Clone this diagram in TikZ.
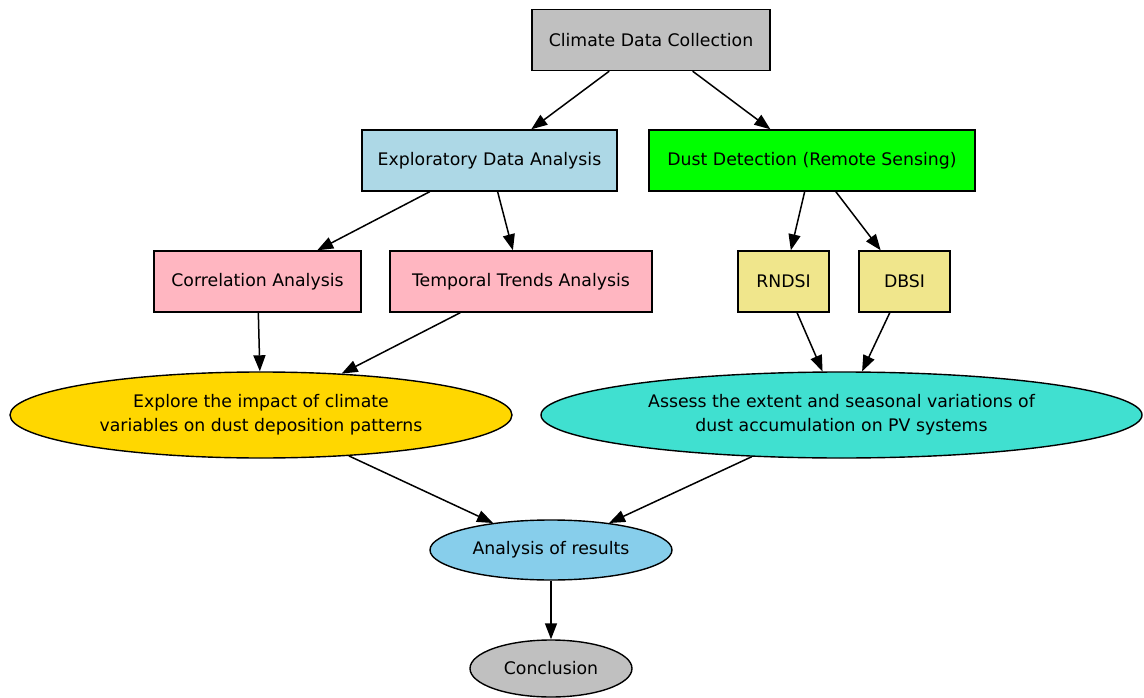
\documentclass[tikz,border=0pt]{standalone}
\usepackage{fontspec}
\setmainfont{DejaVu Sans}
\usetikzlibrary{shapes.geometric,arrows.meta}
\definecolor{silvergray}{HTML}{C0C0C0}
\definecolor{edablue}{HTML}{ADD8E6}
\definecolor{dustgreen}{HTML}{00FF00}
\definecolor{corrpink}{HTML}{FFB6C1}
\definecolor{idxkhaki}{HTML}{F0E68C}
\definecolor{exgold}{HTML}{FFD700}
\definecolor{asturq}{HTML}{40E0D0}
\definecolor{ressky}{HTML}{87CEEB}

\begin{document}
\begin{tikzpicture}[x=1pt,y=-1pt,>={Triangle[length=16pt,width=12pt]},
    every node/.style={draw,line width=1.4pt,inner sep=0pt,align=center,
        font=\fontsize{17.3}{24}\selectfont},
    box/.style={rectangle,minimum height=61pt},
    oval/.style={ellipse},
    link/.style={->,line width=1.5pt}]
    \useasboundingbox (0,0) rectangle (1144,698);
    % boxes
    \node[box,fill=silvergray,minimum width=238pt] (cdc) at (651,40) {Climate Data Collection};
    \node[box,fill=edablue,minimum width=255pt] (eda) at (489.5,160.5) {Exploratory Data Analysis};
    \node[box,fill=dustgreen,minimum width=326pt] (dd) at (812,160.5) {Dust Detection (Remote Sensing)};
    \node[box,fill=corrpink,minimum width=207pt] (corr) at (257.5,281.5) {Correlation Analysis};
    \node[box,fill=corrpink,minimum width=262pt] (temp) at (521,281.5) {Temporal Trends Analysis};
    \node[box,fill=idxkhaki,minimum width=91pt] (rndsi) at (783.5,281.5) {RNDSI};
    \node[box,fill=idxkhaki,minimum width=91pt] (dbsi) at (904.5,281.5) {DBSI};
    % ellipses
    \node[oval,fill=exgold,minimum width=502pt,minimum height=86pt] (explore) at (261,415)
        {Explore the impact of climate\\variables on dust deposition patterns};
    \node[oval,fill=asturq,minimum width=601pt,minimum height=86pt] (assess) at (841.5,415)
        {Assess the extent and seasonal variations of\\dust accumulation on PV systems};
    \node[oval,fill=ressky,minimum width=242pt,minimum height=60pt] (results) at (551,550) {Analysis of results};
    \node[oval,fill=silvergray,minimum width=162pt,minimum height=57pt] (concl) at (551,668.5) {Conclusion};
    % edges
    \draw[link] (cdc) -- (eda); \draw[link] (cdc) -- (dd);
    \draw[link] (eda) -- (corr); \draw[link] (eda) -- (temp);
    \draw[link] (dd) -- (rndsi); \draw[link] (dd) -- (dbsi);
    \draw[link] (corr) -- (explore); \draw[link] (temp) -- (explore);
    \draw[link] (rndsi) -- (assess); \draw[link] (dbsi) -- (assess);
    \draw[link] (explore) -- (results); \draw[link] (assess) -- (results);
    \draw[link] (results) -- (concl);
\end{tikzpicture}
\end{document}
